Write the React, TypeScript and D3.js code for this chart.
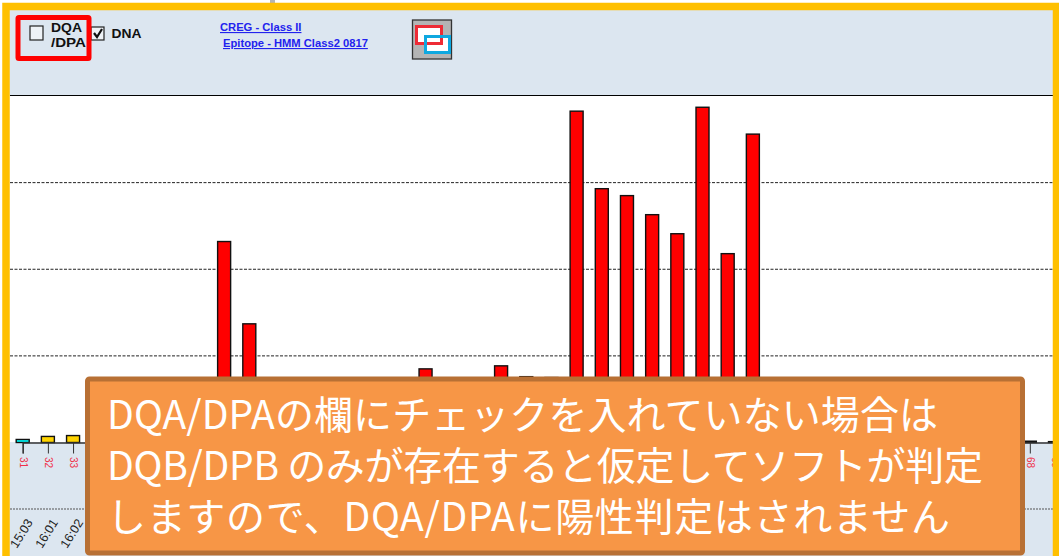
import React, { useEffect, useRef } from "react"
import * as d3 from "d3"

const categories = [
  "31", "32", "33", "34", "35", "36", "37", "38", "39", "40", "41", "42", "43", "44",
  "45", "46", "47", "48", "49", "50", "51", "52", "53", "54", "55", "56", "57", "58",
  "59", "60", "61", "62", "63", "64", "65", "66", "67", "68", "69", "70", "68", "69",
]
const alleles = [
  "15:03", "16:01", "16:02", "", "", "", "", "", "", "", "", "", "", "",
  "", "", "", "", "", "", "", "", "", "", "", "", "", "",
  "", "", "", "", "", "", "", "", "", "", "", "", "", "",
]
// values behind the orange note cannot be read, left at 0
const values = [
  0.035, 0.07, 0.08, 0, 0, 0, 0, 0, 2.32, 1.37, 0, 0, 0, 0,
  0, 0, 0.85, 0, 0, 0.885, 0.76, 0.75, 3.825, 2.93, 2.85, 2.63, 2.41, 3.87,
  2.18, 3.56, 0, 0, 0, 0, 0, 0, 0, 0, 0, 0, 0.015, 0.01,
]
const barColors: Record<string, string> = { "31": "#00ffff", "32": "#ffd400", "33": "#ffd400" }
const yTicks = [1, 2, 3, 4]
const noteLines = [
  "DQA/DPAの欄にチェックを入れていない場合は",
  "DQB/DPB のみが存在すると仮定してソフトが判定",
  "しますので、DQA/DPAに陽性判定はされません",
]
const noteWidths = [831, 876, 843]

const W = 1059
const H = 556

export default function App() {
  const ref = useRef<SVGSVGElement>(null)

  useEffect(() => {
    const svg = d3.select(ref.current)
    svg.selectAll("*").remove()

    const indexes = categories.map((d, i) => i)
    const x = d3.scalePoint<number>().domain(indexes).range([22.7, 1055])
    const y = d3.scaleLinear().domain([0, 4]).range([442.5, 96])

    // panel
    svg.append("rect").attr("x", 0).attr("y", 0).attr("width", W).attr("height", H).attr("fill", "#fff")
    svg.append("rect").attr("x", 8).attr("y", 8).attr("width", W - 8).attr("height", 88).attr("fill", "#dce6f0")
    svg.append("rect").attr("x", 8).attr("y", 442).attr("width", W - 8).attr("height", H - 442).attr("fill", "#dce6f0")
    svg.append("rect").attr("x", 270).attr("y", 0).attr("width", 5).attr("height", 4).attr("fill", "#b5b5b5")

    // grid
    svg.append("line").attr("x1", 10).attr("x2", W).attr("y1", 95.5).attr("y2", 95.5)
      .attr("stroke", "#000").attr("stroke-width", 1.2)
    svg.selectAll(".grid").data(yTicks.slice(0, 3)).enter().append("line")
      .attr("x1", 10).attr("x2", W)
      .attr("y1", d => y(d)).attr("y2", d => y(d))
      .attr("stroke", "#222").attr("stroke-dasharray", "3 1.5")

    // bars
    svg.selectAll(".bar").data(indexes.filter(i => values[i] > 0)).enter().append("rect")
      .attr("x", i => x(i)! - 6.5)
      .attr("y", i => y(values[i]))
      .attr("width", 13)
      .attr("height", i => y(0) - y(values[i]))
      .attr("fill", i => barColors[categories[i]] || "#ff0000")
      .attr("stroke", "#111")
      .attr("stroke-width", 1.4)

    // axis with rotated labels
    const axis = d3.axisBottom(x).tickSize(11).tickFormat(i => categories[i as number])
    const gx = svg.append("g").attr("transform", `translate(0,${y(0)})`).call(axis)
    gx.select(".domain").attr("stroke", "#333").attr("stroke-width", 1.4)
    gx.selectAll(".tick line").attr("stroke", "#333")
    gx.selectAll(".tick text")
      .attr("transform", "rotate(90)")
      .attr("x", 14.5).attr("y", 0).attr("dy", "0.32em")
      .attr("text-anchor", "start")
      .attr("fill", "#f0304a")
      .attr("font-family", "Liberation Sans")
      .attr("font-size", 10)

    svg.append("line").attr("x1", 10).attr("x2", W).attr("y1", 509).attr("y2", 509)
      .attr("stroke", "#555").attr("stroke-dasharray", "2 1").attr("stroke-width", 1.2)

    svg.selectAll(".allele").data(indexes.filter(i => alleles[i])).enter().append("text")
      .attr("transform", i => `translate(${x(i)! - 6},${549}) rotate(-58)`)
      .attr("font-family", "Liberation Sans")
      .attr("font-size", 12.5)
      .attr("fill", "#222")
      .text(i => alleles[i])

    // header controls
    svg.append("rect").attr("x", 30).attr("y", 26).attr("width", 13).attr("height", 14)
      .attr("fill", "#eef2f6").attr("stroke", "#222").attr("stroke-width", 1.2)
    svg.append("rect").attr("x", 91).attr("y", 27).attr("width", 13).attr("height", 13)
      .attr("fill", "#eef2f6").attr("stroke", "#222").attr("stroke-width", 1.2)
    svg.append("path").attr("d", "M94 33 L97 37 L102 29").attr("fill", "none")
      .attr("stroke", "#111").attr("stroke-width", 2.2)

    const bold = (label: string, tx: number, ty: number, len: number) =>
      svg.append("text").attr("x", tx).attr("y", ty).text(label)
        .attr("font-family", "Liberation Sans").attr("font-weight", "bold")
        .attr("font-size", 13).attr("fill", "#111")
        .attr("textLength", len).attr("lengthAdjust", "spacingAndGlyphs")
    bold("DQA", 51, 31.5, 31)
    bold("/DPA", 51, 46.5, 35)
    bold("DNA", 111.5, 38, 30)

    const link = (label: string, tx: number, ty: number) =>
      svg.append("text").attr("x", tx).attr("y", ty).text(label)
        .attr("font-family", "Liberation Sans").attr("font-weight", "bold")
        .attr("font-size", 11.2).attr("fill", "#2222ee")
        .attr("text-decoration", "underline")
    link("CREG - Class II", 220, 31)
    link("Epitope - HMM Class2 0817", 223, 47)

    svg.append("rect").attr("x", 18).attr("y", 17.5).attr("width", 71).attr("height", 41).attr("rx", 1)
      .attr("fill", "none").attr("stroke", "#ff0000").attr("stroke-width", 5)

    // icon
    svg.append("rect").attr("x", 412.5).attr("y", 20).attr("width", 39).attr("height", 39)
      .attr("fill", "#b4b4b4").attr("stroke", "#333").attr("stroke-width", 1.3)
    svg.append("rect").attr("x", 425.5).attr("y", 36.5).attr("width", 24).attr("height", 16)
      .attr("fill", "#fff")
    svg.append("rect").attr("x", 416.5).attr("y", 26.5).attr("width", 25).attr("height", 17)
      .attr("fill", "#fff").attr("stroke", "#ee2b35").attr("stroke-width", 3)
    svg.append("rect").attr("x", 425.5).attr("y", 36.5).attr("width", 24).attr("height", 16)
      .attr("fill", "none").attr("stroke", "#0ea8e0").attr("stroke-width", 3)

    // frame, no bottom edge in the crop
    svg.append("path")
      .attr("d", `M6 ${H} V6.5 H${W - 2.5} V${H}`)
      .attr("fill", "none").attr("stroke", "#ffc000").attr("stroke-width", 7.5)

    // note
    svg.append("rect").attr("x", 87.5).attr("y", 379).attr("width", 935).attr("height", 174).attr("rx", 2)
      .attr("fill", "#f79646").attr("stroke", "#b87034").attr("stroke-width", 5)
    svg.selectAll(".note").data(noteLines).enter().append("text")
      .attr("x", 107)
      .attr("y", (d, i) => 429 + i * 51)
      .attr("font-family", "Noto Sans CJK JP")
      .attr("font-size", 39)
      .attr("fill", "#fff")
      .attr("textLength", (d, i) => noteWidths[i])
      .attr("lengthAdjust", "spacing")
      .text(d => d)
  }, [])

  return <svg ref={ref} width={W} height={H} style={{ position: "absolute", left: 0, top: 0, display: "block" }} />
}
